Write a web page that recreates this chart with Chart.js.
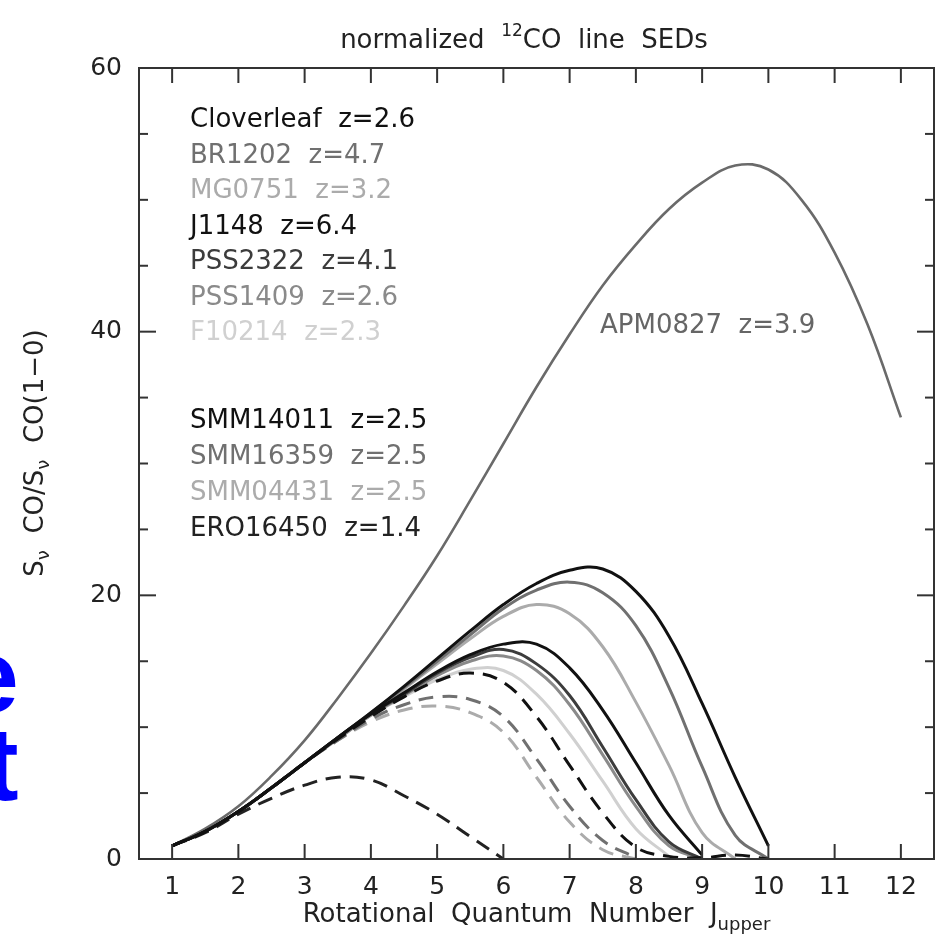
<!DOCTYPE html>
<html><head><meta charset="utf-8">
<script src="https://cdn.jsdelivr.net/npm/chart.js@4.4.1/dist/chart.umd.min.js"></script>
<style>html,body{margin:0;padding:0;background:#fff;overflow:hidden}</style>
</head><body>
<canvas id="c" width="936" height="941"></canvas>
<script>
// ---- data ----
const jValues = [1,1.5,2,2.5,3,3.5,4,4.5,5,5.5,6,6.5,7,7.5,8,8.5,9,9.5,10,10.5,11,11.5,12];
const xTickValues = [1,2,3,4,5,6,7,8,9,10,11,12];
const yTickValues = [0,20,40,60];
const yMinorTicks = [5,10,15,25,30,35,45,50,55];

const APM0827   = [1.0,2.3,4.0,6.3,9.0,12.2,15.6,19.2,23.0,27.2,31.5,35.8,39.8,43.5,46.6,49.3,51.3,52.6,52.3,50.0,46.0,40.5,33.5];
const Cloverleaf= [1.0,2.1,3.6,5.4,7.3,9.2,11.1,13.1,15.2,17.3,19.3,20.9,21.9,22.0,20.3,16.9,11.8,6.2,1.0];
const BR1202    = [1.0,2.1,3.6,5.4,7.3,9.2,11.1,13.0,15.0,17.0,19.0,20.4,21.0,20.2,17.7,13.0,7.0,1.8,0.0];
const MG0751    = [1.0,2.1,3.6,5.4,7.3,9.2,11.0,12.9,14.8,16.7,18.4,19.3,18.6,16.1,11.9,7.1,2.0,0.0];
const J1148     = [1.0,2.1,3.6,5.4,7.3,9.2,11.0,12.6,14.2,15.5,16.3,16.3,14.5,11.3,7.3,3.3,0.3];
const PSS2322   = [1.0,2.1,3.6,5.4,7.3,9.2,11.0,12.5,14.1,15.3,15.9,14.8,12.4,8.5,4.5,1.3,0.0];
const PSS1409   = [1.0,2.1,3.6,5.4,7.3,9.1,10.9,12.4,13.9,15.0,15.4,14.3,11.7,7.9,4.0,1.0,0.0];
const F10214    = [1.0,2.1,3.6,5.4,7.3,9.1,10.9,12.3,13.6,14.4,14.3,12.5,9.5,5.9,2.3,0.2];
const SMM14011  = [1.0,2.1,3.6,5.4,7.3,9.1,10.8,12.3,13.5,14.1,13.4,10.8,7.1,3.5,0.9,0.2,0.1,0.3,0.0];
const SMM16359  = [1.0,2.1,3.6,5.4,7.3,9.0,10.6,11.7,12.3,12.1,10.8,7.6,4.0,1.4,0.1];
const SMM04431  = [1.0,2.1,3.6,5.4,7.3,9.0,10.4,11.3,11.6,11.1,9.6,6.2,2.8,0.7,0.0];
const ERO16450  = [1.0,2.0,3.4,4.6,5.6,6.2,6.0,4.8,3.4,1.7,0.0];

const legendGroup1 = ['Cloverleaf  z=2.6','BR1202  z=4.7','MG0751  z=3.2','J1148  z=6.4','PSS2322  z=4.1','PSS1409  z=2.6','F10214  z=2.3'];
const legendGroup2 = ['SMM14011  z=2.5','SMM16359  z=2.5','SMM04431  z=2.5','ERO16450  z=1.4'];
const apmLabel = 'APM0827  z=3.9';

// ---- styles ----
const C = {black:'#111111', dark:'#3c3c3c', gray:'#707070', mid:'#8a8a8a', light:'#ababab', pale:'#d0d0d0'};
const col1 = [C.black, C.gray, C.light, C.black, C.dark, C.mid, C.pale];
const col2 = [C.black, C.gray, C.light, '#222222'];
const FONT = '"DejaVu Sans", sans-serif';

function pts(arr){ return arr.map((v,i)=>({x:jValues[i], y:v})); }
function ds(label, arr, color, dashed, order, width){
  return {label, data:pts(arr), borderColor:color, borderWidth:width||3, borderDash:dashed?[15,9]:[],
          pointRadius:0, tension:0.4, fill:false, order};
}

const datasets = [
  ds('APM0827', APM0827, '#6a6a6a', false, 3, 2.6),
  ds('Cloverleaf', Cloverleaf, col1[0], false, 0),
  ds('BR1202', BR1202, col1[1], false, 1),
  ds('MG0751', MG0751, col1[2], false, 2),
  ds('J1148', J1148, col1[3], false, 0),
  ds('PSS2322', PSS2322, col1[4], false, 1),
  ds('PSS1409', PSS1409, col1[5], false, 2),
  ds('F10214', F10214, col1[6], false, 3),
  ds('SMM14011', SMM14011, col2[0], true, 0),
  ds('SMM16359', SMM16359, col2[1], true, 1),
  ds('SMM04431', SMM04431, col2[2], true, 2),
  ds('ERO16450', ERO16450, col2[3], true, 0),
];

function richWidth(ctx, parts){
  let w=0; parts.forEach(p=>{ctx.font=p.size+'px '+FONT; w+=ctx.measureText(p.t).width;}); return w;
}
function drawRich(ctx, parts, x, y){
  let cx=x;
  parts.forEach(p=>{ctx.font=p.size+'px '+FONT; ctx.fillText(p.t, cx, y+(p.dy||0)); cx+=ctx.measureText(p.t).width;});
}

const decor = {
  id:'decor',
  afterDraw(chart){
    const {ctx, chartArea:a, scales:{x,y}} = chart;
    ctx.save();
    const line=(x1,y1,x2,y2)=>{ctx.beginPath();ctx.moveTo(x1,y1);ctx.lineTo(x2,y2);ctx.stroke();};
    ctx.strokeStyle='#333'; ctx.lineWidth=2;
    ctx.strokeRect(a.left, a.top, a.right-a.left, a.bottom-a.top);
    xTickValues.forEach(v=>{const px=x.getPixelForValue(v); line(px,a.bottom,px,a.bottom-15); line(px,a.top,px,a.top+15);});
    yTickValues.forEach(v=>{const py=y.getPixelForValue(v); line(a.left,py,a.left+17,py); line(a.right,py,a.right-17,py);});
    yMinorTicks.forEach(v=>{const py=y.getPixelForValue(v); line(a.left,py,a.left+9,py); line(a.right,py,a.right-9,py);});

    ctx.textBaseline='alphabetic'; ctx.textAlign='left';
    // title
    ctx.fillStyle='#222';
    const tParts=[{t:'normalized  ',size:26},{t:'12',size:17,dy:-12},{t:'CO  line  SEDs',size:26}];
    const tw=richWidth(ctx,tParts);
    drawRich(ctx,tParts,524-tw/2,48);
    // x title
    const xParts=[{t:'Rotational  Quantum  Number  J',size:26},{t:'upper',size:18,dy:8}];
    const xw=richWidth(ctx,xParts);
    drawRich(ctx,xParts,(a.left+a.right)/2-xw/2,922);
    // y title
    ctx.save();
    ctx.translate(43,453); ctx.rotate(-Math.PI/2);
    const yParts=[{t:'S',size:26},{t:'\u03bd',size:18,dy:6},{t:'  CO/S',size:26},{t:'\u03bd',size:18,dy:6},{t:'  CO(1\u22120)',size:26}];
    const yw=richWidth(ctx,yParts);
    drawRich(ctx,yParts,-yw/2,0);
    ctx.restore();
    // legends
    ctx.font='26px '+FONT;
    legendGroup1.forEach((s,i)=>{ctx.fillStyle=col1[i]; ctx.fillText(s,190,127+35.5*i);});
    legendGroup2.forEach((s,i)=>{ctx.fillStyle=col2[i]; ctx.fillText(s,190,428+36*i);});
    ctx.fillStyle='#666'; ctx.fillText(apmLabel,600,333);
    // clipped blue slide text at left edge
    ctx.font='bold 104px "Liberation Sans", Arial, sans-serif';
    ctx.fillStyle='#0000ff';
    let m=ctx.measureText('e'); ctx.fillText('e',16-m.actualBoundingBoxRight,712);
    m=ctx.measureText('t'); ctx.fillText('t',18-m.actualBoundingBoxRight,800);
    ctx.restore();
  }
};

new Chart(document.getElementById('c'), {
  type:'line',
  data:{datasets},
  options:{
    responsive:false, animation:false, devicePixelRatio:1,
    layout:{padding:{top:68,right:2,left:0,bottom:0}},
    plugins:{legend:{display:false}, tooltip:{enabled:false}},
    scales:{
      x:{type:'linear', min:0.5, max:12.5,
         afterBuildTicks:s=>{s.ticks=xTickValues.map(v=>({value:v}));},
         afterFit:s=>{s.height=82;},
         grid:{display:false, drawTicks:false}, border:{display:false},
         ticks:{font:{family:'DejaVu Sans',size:25}, color:'#222', padding:13, maxRotation:0, autoSkip:false}},
      y:{type:'linear', min:0, max:60,
         afterBuildTicks:s=>{s.ticks=yTickValues.map(v=>({value:v}));},
         afterFit:s=>{s.width=139;},
         grid:{display:false, drawTicks:false}, border:{display:false},
         ticks:{font:{family:'DejaVu Sans',size:25}, color:'#222', padding:17}}
    }
  },
  plugins:[decor]
});
</script>
</body></html>
